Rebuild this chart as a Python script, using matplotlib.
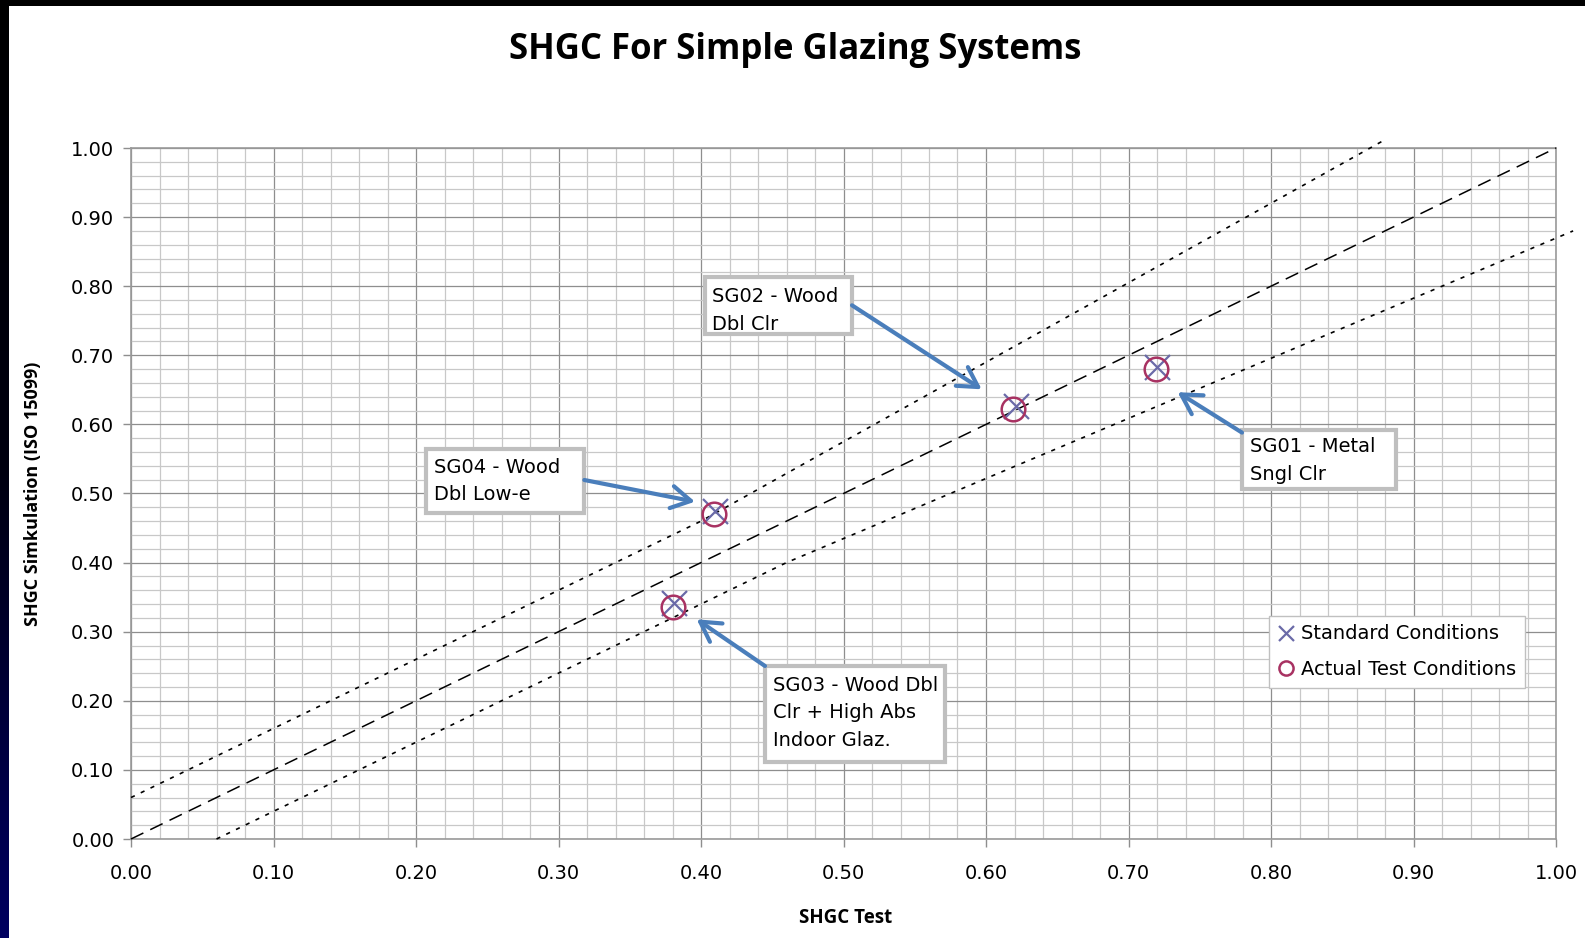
import numpy as np
import matplotlib
matplotlib.use("Agg")
import matplotlib.pyplot as plt
from matplotlib.patches import Rectangle
from matplotlib.colors import LinearSegmentedColormap

# ---- data ----
samples = ["SG01", "SG02", "SG03", "SG04"]
std_x = [0.720, 0.621, 0.381, 0.410]
std_y = [0.683, 0.626, 0.341, 0.474]
act_x = [0.719, 0.619, 0.380, 0.409]
act_y = [0.680, 0.623, 0.336, 0.470]

center_x = [0.0, 1.0]
center_y = [0.0, 1.0]
upper_x = [0.0, 0.40, 0.88]
upper_y = [0.06, 0.46, 1.012]
lower_x = [0.06, 0.46, 1.012]
lower_y = [0.0, 0.40, 0.88]

x_ticks = [0.0, 0.1, 0.2, 0.3, 0.4, 0.5, 0.6, 0.7, 0.8, 0.9, 1.0]
y_ticks = [0.0, 0.1, 0.2, 0.3, 0.4, 0.5, 0.6, 0.7, 0.8, 0.9, 1.0]
tick_labels = ["0.00", "0.10", "0.20", "0.30", "0.40", "0.50", "0.60", "0.70", "0.80", "0.90", "1.00"]

labels = {
    "SG01": ["SG01 - Metal", "Sngl Clr"],
    "SG02": ["SG02 - Wood", "Dbl Clr"],
    "SG03": ["SG03 - Wood Dbl", "Clr + High Abs", "Indoor Glaz."],
    "SG04": ["SG04 - Wood", "Dbl Low-e"],
}

FONT = "DejaVu Sans"
BFONT = "Open Sans"
W, H = 1585, 938
fig = plt.figure(figsize=(W / 100, H / 100), dpi=100)
fig.patch.set_facecolor("white")

# slide background strips
top = fig.add_axes([0, 1 - 6 / H, 1, 6 / H])
top.set_axis_off()
top.add_patch(Rectangle((0, 0), 1, 1, color="black", transform=top.transAxes))
left = fig.add_axes([0, 0, 9 / W, 1])
grad = np.linspace(0, 1, 256).reshape(-1, 1)
cm = LinearSegmentedColormap.from_list("bg", ["#000000", "#000010", "#000060"])
left.imshow(grad, aspect="auto", cmap=cm, extent=[0, 1, 0, 1])
left.set_axis_off()

ax = fig.add_axes([131 / W, 99 / H, 1425 / W, 691 / H])
ax.set_xlim(0, 1)
ax.set_ylim(0, 1)
ax.set_xticks(x_ticks)
ax.set_yticks(y_ticks)
ax.set_xticklabels(tick_labels, fontsize=14, family=FONT)
ax.set_yticklabels(tick_labels, fontsize=14, family=FONT)
ax.set_xticks(np.arange(0, 1.0001, 0.02), minor=True)
ax.set_yticks(np.arange(0, 1.0001, 0.02), minor=True)
ax.grid(which="major", color="#8e8e8e", lw=0.9)
ax.grid(which="minor", color="#c8c8c8", lw=0.9)
ax.set_axisbelow(True)
ax.tick_params(axis="x", which="major", pad=12)
ax.tick_params(axis="y", which="major", pad=6)
ax.tick_params(which="major", length=6, width=1, color="#8e8e8e", labelcolor="black")
ax.tick_params(which="minor", length=0)
for s in ax.spines.values():
    s.set_color("#9a9a9a")
    s.set_linewidth(1.2)

ax.plot(center_x, center_y, color="black", lw=1.1, linestyle=(0, (9, 5)), clip_on=False, zorder=3)
ax.plot(upper_x, upper_y, color="black", lw=1.2, linestyle=(0, (2.5, 4)), clip_on=False, zorder=3)
ax.plot(lower_x, lower_y, color="black", lw=1.2, linestyle=(0, (2.5, 4)), clip_on=False, zorder=3)

ax.plot(std_x, std_y, linestyle="none", marker="x", markersize=18, markeredgewidth=1.6,
        color="#6a6aa8", label="Standard Conditions", zorder=5)
ax.plot(act_x, act_y, linestyle="none", marker="o", markersize=17, markeredgewidth=1.8,
        markerfacecolor="none", markeredgecolor="#a83262", label="Actual Test Conditions", zorder=6)

def px(xp, yp):
    return ((xp - 131) / 1425, (839 - yp) / 691)

boxes = {
    "SG02": ((704.5, 277, 852, 333.6), (711.6, [296, 324.5]), ((852, 305.3), (981.7, 389.3))),
    "SG01": ((1242, 429.6, 1396, 489), (1250, [446.8, 475]), ((1242, 432.6), (1177.6, 392.2))),
    "SG04": ((425.6, 448.8, 584.3, 512.5), (433.6, [467, 494.3]), ((584.3, 480), (695, 501.7))),
    "SG03": ((765, 666, 945, 762), (773.3, [685.3, 712.6, 740]), ((765, 666), (696.7, 619.3))),
}
for key in samples:
    (x0, y0, x1, y1), (tx, tys), (start, end) = boxes[key]
    a, b = px(x0, y1)
    c, d = px(x1, y0)
    ax.add_patch(Rectangle((a, b), c - a, d - b, facecolor="white", edgecolor="#bfbfbf",
                           lw=3, zorder=7, clip_on=False))
    for line, ty in zip(labels[key], tys):
        ax.text(*px(tx, ty), line, fontsize=14, family=FONT, ha="left", va="center", zorder=8)
    ax.annotate("", xy=px(*end), xytext=px(*start),
                arrowprops=dict(arrowstyle="->,head_length=0.7,head_width=0.4", color="#4a7ebb",
                                lw=3, mutation_scale=20, shrinkA=0, shrinkB=0),
                zorder=8, annotation_clip=False)

leg = ax.legend(loc="upper left", bbox_to_anchor=(0.7983, 0.3233), borderaxespad=0,
                prop={"family": FONT, "size": 14}, frameon=True, fancybox=False,
                edgecolor="#c0c0c0", framealpha=1, handlelength=0.9, handletextpad=0.3,
                borderpad=0.45, labelspacing=0.85, markerscale=0.6)
leg.get_frame().set_linewidth(1.0)
leg.set_zorder(9)

fig.text(795.5 / W, 1 - 49.5 / H, "SHGC For Simple Glazing Systems", fontsize=25,
         fontweight="bold", family=BFONT, ha="center", va="center")
fig.text(846 / W, 1 - 918 / H, "SHGC Test", fontsize=13.5, fontweight="bold", family=BFONT,
         ha="center", va="center")
fig.text(33 / W, 1 - 494 / H, "SHGC Simkulation (ISO 15099)", fontsize=13, fontweight="bold",
         family=BFONT, ha="center", va="center", rotation=90)

fig.savefig("out.png", dpi=100)
